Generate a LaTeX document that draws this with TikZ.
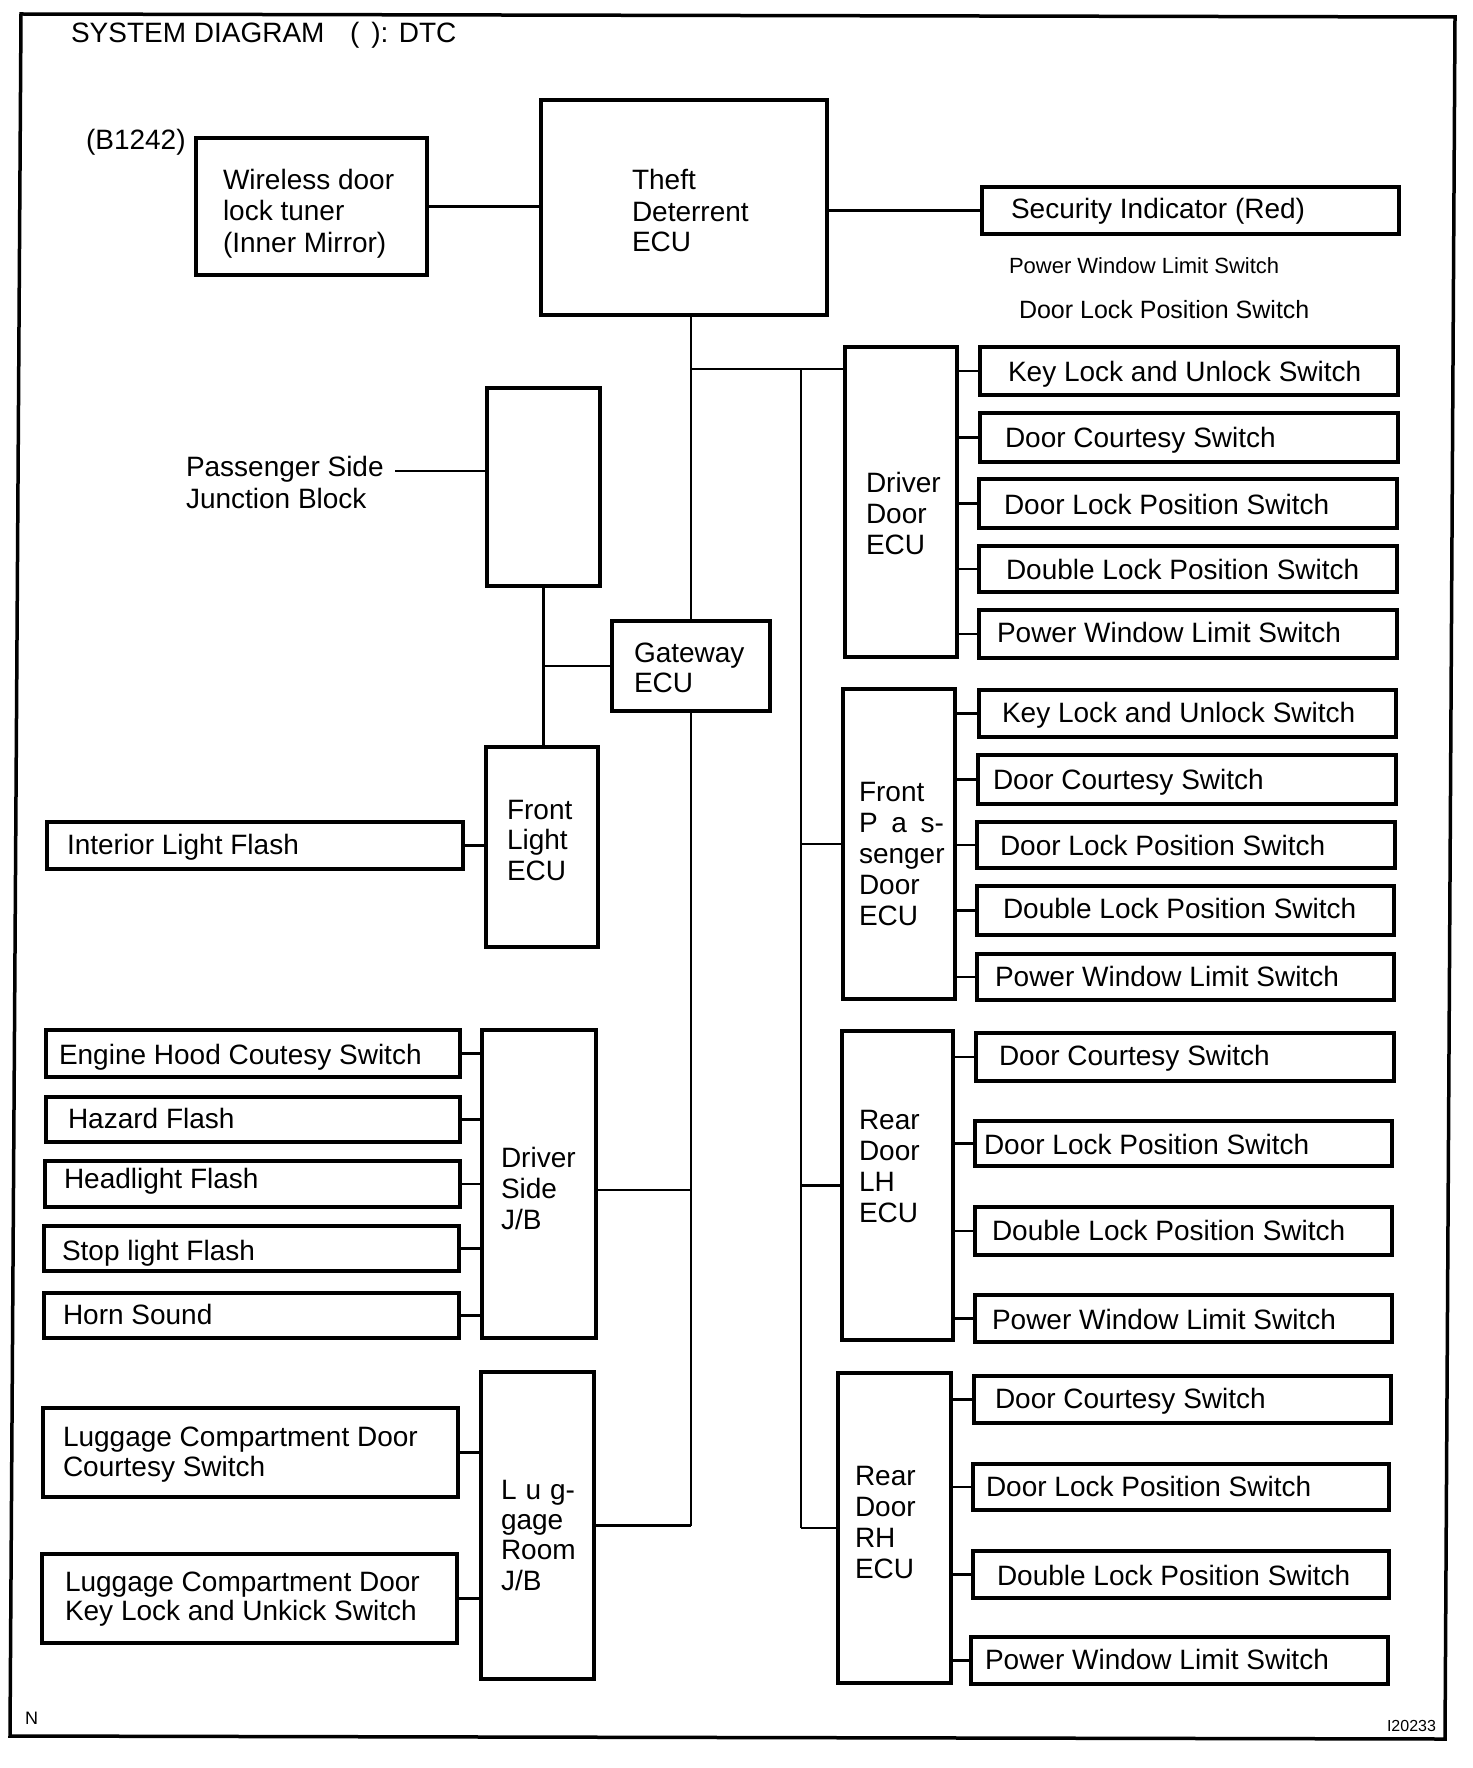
\documentclass[tikz,border=0pt]{standalone}
\usepackage{graphicx}
\usepackage{fontspec}
\setmainfont{Liberation Sans}
\tikzset{
  boxst/.style={draw, line width=3.5pt, inner sep=0pt, outer sep=0pt},
  conn/.style={line width=2.5pt},
  lbl/.style={anchor=west, inner sep=0pt, outer sep=0pt, text height=20pt, text depth=0pt, font=\fontsize{28}{31}\selectfont},
  lblsmall/.style={lbl, text height=16pt, font=\fontsize{22}{22}\selectfont},
  lblmid/.style={lbl, text height=18pt, font=\fontsize{25}{25}\selectfont},
  lbltiny/.style={lbl, text height=12pt, font=\fontsize{16}{16}\selectfont},
  frame/.style={line width=3.5pt, line join=miter}
}
\newcommand\mybox[5]{\node[boxst, minimum width={(#4)-(#2)}, minimum height={(#5)-(#3)}] (#1) at ({((#2)+(#4))/2},{((#3)+(#5))/2}) {};}
\newcommand\mytxt[4]{\node[lbl] (#1) at (#2,#3) {#4};}
\newcommand\pwls{Power Window Limit Switch}
\begin{document}
\begin{tikzpicture}[x=1pt, y=-1pt]
\fill[white] (0,0) rectangle (1472,1768);
\useasboundingbox (0,0) rectangle (1472,1768);
% frame
\draw[frame] (21,14) -- (1455,17) -- (1445,1739) -- (10,1736) -- cycle;
% title
\mytxt{title}{71}{33}{SYSTEM DIAGRAM}
\mytxt{dtc}{350}{33}{(\hspace{12pt}): DTC}
\mytxt{bcode}{86}{140}{(B1242)}
% top
\mybox{wdt}{196}{138}{427}{275}
\mytxt{wdta}{223}{180}{Wireless door}
\mytxt{wdtb}{223}{211}{lock tuner}
\mytxt{wdtc}{223}{243}{(Inner Mirror)}
\mybox{tde}{541}{100}{827}{315}
\mytxt{tdea}{632}{180}{Theft}
\mytxt{tdeb}{632}{212}{Deterrent}
\mytxt{tdec}{632}{242}{ECU}
\mybox{sec}{982}{187}{1399}{234}
\mytxt{sect}{1011}{209}{Security Indicator (Red)}
\node[lblsmall] (fpw) at (1009,266) {Power Window Limit Switch};
\node[lblmid] (fdl) at (1019,310) {Door Lock Position Switch};
% left middle
\mybox{psj}{487}{388}{600}{586}
\mytxt{psla}{186}{466}{Passenger Side}
\mytxt{pslb}{186}{498}{Junction Block}
\mybox{gw}{612}{621}{770}{711}
\mytxt{gwa}{634}{652}{Gateway}
\mytxt{gwb}{634}{682}{ECU}
\mybox{fle}{486}{747}{598}{947}
\mytxt{flea}{507}{809}{Front}
\mytxt{fleb}{507}{839}{Light}
\mytxt{flec}{507}{870}{ECU}
\mybox{ilf}{47}{822}{463}{869}
\mytxt{ilft}{67}{844}{Interior Light Flash}
% driver side J/B
\mybox{dsjb}{482}{1030}{596}{1338}
\mytxt{dsja}{501}{1157}{Driver}
\mytxt{dsjb2}{501}{1188}{Side}
\mytxt{dsjc}{501}{1219}{J/B}
\mybox{eh}{46}{1030}{460}{1077}
\mytxt{eht}{59}{1054}{Engine Hood Coutesy Switch}
\mybox{hz}{46}{1097}{460}{1142}
\mytxt{hzt}{68}{1118}{Hazard Flash}
\mybox{hl}{45}{1161}{460}{1207}
\mytxt{hlt}{64}{1178}{Headlight Flash}
\mybox{sl}{44}{1226}{459}{1271}
\mytxt{slt}{62}{1250}{Stop light Flash}
\mybox{hs}{44}{1293}{459}{1338}
\mytxt{hst}{63}{1314}{Horn Sound}
% luggage room J/B
\mybox{lrjb}{481}{1372}{594}{1679}
\mytxt{lrja}{501}{1489}{\makebox[74pt][s]{L\hfill u\hfill g-}}
\mytxt{lrjb2}{501}{1519}{gage}
\mytxt{lrjc}{501}{1549}{Room}
\mytxt{lrjd}{501}{1580}{J/B}
\mybox{lca}{43}{1408}{458}{1497}
\mytxt{lcaa}{63}{1436}{Luggage Compartment Door}
\mytxt{lcab}{63}{1466}{Courtesy Switch}
\mybox{lcb}{42}{1554}{457}{1643}
\mytxt{lcba}{65}{1581}{Luggage Compartment Door}
\mytxt{lcbb}{65}{1610}{Key Lock and Unkick Switch}
% driver door ECU
\mybox{dde}{845}{347}{957}{657}
\mytxt{ddea}{866}{482}{Driver}
\mytxt{ddeb}{866}{513}{Door}
\mytxt{ddec}{866}{544}{ECU}
\mybox{da}{980}{347}{1398}{395}
\mytxt{dat}{1008}{371}{Key Lock and Unlock Switch}
\mybox{db}{980}{413}{1398}{462}
\mytxt{dbt}{1005}{437}{Door Courtesy Switch}
\mybox{dc}{979}{479}{1397}{528}
\mytxt{dct}{1004}{504}{Door Lock Position Switch}
\mybox{dd}{979}{546}{1397}{592}
\mytxt{ddt}{1006}{569}{Double Lock Position Switch}
\mybox{de}{979}{610}{1397}{658}
\mytxt{det}{997}{632}{\pwls}
% front passenger door ECU
\mybox{fpe}{843}{689}{955}{999}
\mytxt{fpea}{859}{791}{Front}
\mytxt{fpeb}{859}{822}{\makebox[85pt][s]{P\hfill a\hfill s-}}
\mytxt{fpec}{859}{853}{senger}
\mytxt{fped}{859}{884}{Door}
\mytxt{fpee}{859}{915}{ECU}
\mybox{fa}{979}{690}{1396}{737}
\mytxt{fat}{1002}{712}{Key Lock and Unlock Switch}
\mybox{fb}{978}{755}{1396}{804}
\mytxt{fbt}{993}{779}{Door Courtesy Switch}
\mybox{fc}{977}{822}{1395}{868}
\mytxt{fct}{1000}{845}{Door Lock Position Switch}
\mybox{fd}{977}{886}{1394}{935}
\mytxt{fdt}{1003}{908}{Double Lock Position Switch}
\mybox{fe}{977}{954}{1394}{1000}
\mytxt{fet}{995}{976}{\pwls}
% rear door LH ECU
\mybox{rle}{842}{1031}{953}{1340}
\mytxt{rlea}{859}{1119}{Rear}
\mytxt{rleb}{859}{1150}{Door}
\mytxt{rlec}{859}{1181}{LH}
\mytxt{rled}{859}{1212}{ECU}
\mybox{la}{976}{1033}{1394}{1081}
\mytxt{lat}{999}{1055}{Door Courtesy Switch}
\mybox{lb}{975}{1121}{1392}{1166}
\mytxt{lbt}{984}{1144}{Door Lock Position Switch}
\mybox{lc}{975}{1207}{1392}{1255}
\mytxt{lct}{992}{1230}{Double Lock Position Switch}
\mybox{ld}{975}{1295}{1392}{1342}
\mytxt{ldt}{992}{1319}{\pwls}
% rear door RH ECU
\mybox{rre}{838}{1373}{951}{1683}
\mytxt{rrea}{855}{1475}{Rear}
\mytxt{rreb}{855}{1506}{Door}
\mytxt{rrec}{855}{1537}{RH}
\mytxt{rred}{855}{1568}{ECU}
\mybox{ra}{974}{1376}{1391}{1423}
\mytxt{rat}{995}{1398}{Door Courtesy Switch}
\mybox{rb}{973}{1464}{1389}{1510}
\mytxt{rbt}{986}{1486}{Door Lock Position Switch}
\mybox{rc}{973}{1551}{1389}{1598}
\mytxt{rct}{997}{1575}{Double Lock Position Switch}
\mybox{rd}{971}{1637}{1388}{1684}
\mytxt{rdt}{985}{1659}{\pwls}
% footer
\node[lbl, text height=13pt, font=\fontsize{18}{18}\selectfont] (nmark) at (25,1718) {N};
\node[lbltiny] (fig) at (1387,1725) {I20233};
% connectors
\coordinate (j1) at (691,369);
\coordinate (j2) at (801,369);
\coordinate (pse) at (395,471);
\draw[conn] (wdt.east) -- (wdt.east -| tde.west);
\draw[conn] (sec.west) -- (sec.west -| tde.east);
\draw[conn] (gw.north |- tde.south) -- (gw.north);
\draw[conn] (j1) -- (j1 -| dde.west);
\draw[conn] (j2) -- (j2 |- rre.west);
\foreach \e in {fpe,rle,rre} \draw[conn] (\e.west) -- (\e.west -| j2);
\draw[conn] (gw.south) -- (gw.south |- lrjb.east);
\draw[conn] (lrjb.east) -- (lrjb.east -| gw.south);
\draw[conn] ([yshift=-6pt]dsjb.east) -- ([yshift=-6pt]dsjb.east -| gw.south);
\draw[conn] (psj.south) -- (psj.south |- fle.north);
\draw[conn] (gw.west) -- (gw.west -| psj.south);
\draw[conn] (pse) -- (pse -| psj.west);
\draw[conn] (ilf.east) -- (ilf.east -| fle.west);
\foreach \b in {eh,hz,hl,sl,hs} \draw[conn] (\b.east) -- (\b.east -| dsjb.west);
\foreach \b in {lca,lcb} \draw[conn] (\b.east) -- (\b.east -| lrjb.west);
\foreach \b in {da,db,dc,dd,de} \draw[conn] (\b.west) -- (\b.west -| dde.east);
\foreach \b in {fa,fb,fc,fd,fe} \draw[conn] (\b.west) -- (\b.west -| fpe.east);
\foreach \b in {la,lb,lc,ld} \draw[conn] (\b.west) -- (\b.west -| rle.east);
\foreach \b in {ra,rb,rc,rd} \draw[conn] (\b.west) -- (\b.west -| rre.east);
\end{tikzpicture}
\end{document}
